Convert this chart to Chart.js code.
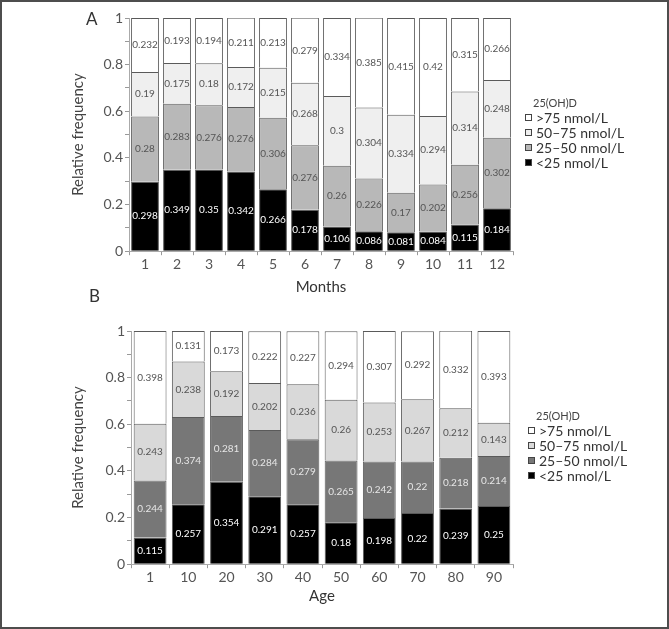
<!DOCTYPE html>
<html>
<head>
<meta charset="utf-8">
<script src="https://cdn.jsdelivr.net/npm/chart.js@4.4.1/dist/chart.umd.min.js"></script>
<style>
  html, body { margin: 0; padding: 0; background: #fff; }
  #frame { position: absolute; left: 0; top: 0; width: 669px; height: 629px; box-sizing: border-box; border: 2px solid #4d4d4d; }
  .panel { position: absolute; left: 0; width: 669px; }
  #panelA { top: 0; height: 300px; }
  #panelB { top: 313px; height: 296px; }
  .tag { position: absolute; font: 17px Lato, sans-serif; color: #333; line-height: 1; }
  .legend { position: absolute; font-family: Lato, sans-serif; color: #333; }
  .legend .ttl { font-size: 11px; line-height: 15px; margin-left: 8px; color: #444; }
  .legend .item { font-size: 14px; line-height: 15px; height: 15px; white-space: nowrap; }
  .legend .box { display: inline-block; width: 5px; height: 5px; border: 1px solid #444; margin-right: 4px; vertical-align: 2px; }
</style>
</head>
<body>
<div id="frame"></div>
<div class="panel" id="panelA"><canvas id="chartA"></canvas></div>
<div class="panel" id="panelB"><canvas id="chartB"></canvas></div>
<div class="tag" style="left:86px;top:10px;">A</div>
<div class="tag" style="left:89px;top:287px;">B</div>
<div class="legend" id="legendA" style="left:525px;top:95px;"></div>
<div class="legend" id="legendB" style="left:528px;top:408px;"></div>
<script>
'use strict';

const groups = ['<25 nmol/L', '25–50 nmol/L', '50–75 nmol/L', '>75 nmol/L'];

// Panel A: by month
const months       = ['1', '2', '3', '4', '5', '6', '7', '8', '9', '10', '11', '12'];
const monthLt25    = [0.298, 0.349, 0.35, 0.342, 0.266, 0.178, 0.106, 0.086, 0.081, 0.084, 0.115, 0.184];
const month25to50  = [0.28, 0.283, 0.276, 0.276, 0.306, 0.276, 0.26, 0.226, 0.17, 0.202, 0.256, 0.302];
const month50to75  = [0.19, 0.175, 0.18, 0.172, 0.215, 0.268, 0.3, 0.304, 0.334, 0.294, 0.314, 0.248];
const monthGt75    = [0.232, 0.193, 0.194, 0.211, 0.213, 0.279, 0.334, 0.385, 0.415, 0.42, 0.315, 0.266];

// Panel B: by age
const ages         = ['1', '10', '20', '30', '40', '50', '60', '70', '80', '90'];
const ageLt25      = [0.115, 0.257, 0.354, 0.291, 0.257, 0.18, 0.198, 0.22, 0.239, 0.25];
const age25to50    = [0.244, 0.374, 0.281, 0.284, 0.279, 0.265, 0.242, 0.22, 0.218, 0.214];
const age50to75    = [0.243, 0.238, 0.192, 0.202, 0.236, 0.26, 0.253, 0.267, 0.212, 0.143];
const ageGt75      = [0.398, 0.131, 0.173, 0.222, 0.227, 0.294, 0.307, 0.292, 0.332, 0.393];

const FONT = 'Lato, sans-serif';

const segmentLabels = {
  id: 'segmentLabels',
  afterDatasetsDraw(chart, args, opts) {
    const ctx = chart.ctx;
    ctx.save();
    ctx.font = '10px ' + FONT;
    ctx.textAlign = 'center';
    ctx.textBaseline = 'middle';
    chart.data.datasets.forEach((ds, i) => {
      chart.getDatasetMeta(i).data.forEach((bar, j) => {
        ctx.fillStyle = opts.colors[i];
        ctx.fillText(String(ds.data[j]), bar.x, (bar.y + bar.base) / 2);
      });
    });
    ctx.restore();
  }
};

function buildLegend(id, fills) {
  const el = document.getElementById(id);
  let html = '<div class="ttl">25(OH)D</div>';
  for (let i = groups.length - 1; i >= 0; i--) {
    html += `<div class="item"><span class="box" style="background:${fills[i]}"></span>${groups[i].replace('<', '&lt;').replace('>', '&gt;')}</div>`;
  }
  el.innerHTML = html;
}

function makeChart(id, labels, series, fills, textColors, xTitle, axisWidth, barPct, titleGap) {
  new Chart(document.getElementById(id), {
    type: 'bar',
    data: {
      labels,
      datasets: series.map((data, i) => ({
        label: groups[i],
        data,
        backgroundColor: fills[i],
        borderColor: '#5a5a5a',
        borderWidth: 1,
        barPercentage: barPct,
        categoryPercentage: 1
      }))
    },
    plugins: [segmentLabels],
    options: {
      responsive: true,
      maintainAspectRatio: false,
      animation: false,
      layout: { padding: { top: 18, left: 65, right: 156, bottom: 4 } },
      plugins: {
        tooltip: { enabled: false },
        legend: { display: false },
        segmentLabels: { colors: textColors }
      },
      scales: {
        x: {
          stacked: true,
          grid: { offset: true, drawOnChartArea: false, tickLength: 4, color: '#999' },
          border: { color: '#aaa' },
          ticks: { color: '#555', padding: 1, font: { family: FONT, size: 14 } },
          title: { display: true, text: xTitle, color: '#333', font: { family: FONT, size: 15 }, padding: { top: titleGap, bottom: 0 } }
        },
        y: {
          stacked: true,
          min: 0,
          max: 1,
          afterFit: scale => { scale.width = axisWidth; },
          grid: { drawOnChartArea: false, tickLength: 4, color: '#999' },
          border: { color: '#aaa' },
          ticks: {
            stepSize: 0.1,
            padding: 2,
            color: '#555',
            font: { family: FONT, size: 14 },
            callback: (v, i) => (i % 2 === 0 ? String(Number(v.toFixed(1))) : '')
          },
          title: { display: true, text: 'Relative frequency', color: '#444', font: { family: FONT, size: 15 } }
        }
      }
    }
  });
  buildLegend(id === 'chartA' ? 'legendA' : 'legendB', fills);
}

makeChart('chartA', months, [monthLt25, month25to50, month50to75, monthGt75],
  ['#000000', '#b8b8b8', '#efefef', '#ffffff'],
  ['#ffffff', '#555555', '#555555', '#555555'],
  'Months', 64, 0.87, 4);

makeChart('chartB', ages, [ageLt25, age25to50, age50to75, ageGt75],
  ['#000000', '#777777', '#d9d9d9', '#ffffff'],
  ['#ffffff', '#e6e6e6', '#555555', '#555555'],
  'Age', 66, 0.86, 0);
</script>
</body>
</html>
